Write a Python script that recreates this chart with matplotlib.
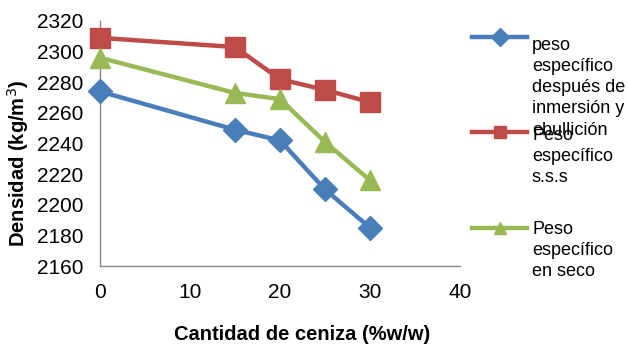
import matplotlib
matplotlib.use("Agg")
import matplotlib.pyplot as plt
from matplotlib.lines import Line2D

plt.rcParams['font.family'] = ['Liberation Sans', 'DejaVu Sans']

ceniza = [0, 15, 20, 25, 30]
despues_inmersion = [2274, 2249, 2242, 2210, 2185]
sss = [2309, 2303, 2282, 2275, 2267]
seco = [2296, 2273, 2269, 2241, 2216]

labels = ["peso\nespecífico\ndespués de\ninmersión y\nebullición",
          "Peso\nespecífico\ns.s.s",
          "Peso\nespecífico\nen seco"]
colors = ["#4A7EBB", "#BE4B48", "#98B954"]
markers = ["D", "s", "^"]
msizes = [12, 14, 15]

xticks = [0, 10, 20, 30, 40]
yticks = [2160, 2180, 2200, 2220, 2240, 2260, 2280, 2300, 2320]

W, H = 628, 354
fig = plt.figure(figsize=(W / 100, H / 100), dpi=100)
ax = fig.add_axes([100 / W, 1 - 266 / H, 360 / W, 245 / H])

for ys, c, m, ms in zip([despues_inmersion, sss, seco], colors, markers, msizes):
    ax.plot(ceniza, ys, color=c, lw=3.2, marker=m, markersize=ms,
            markeredgecolor=c, markerfacecolor=c, clip_on=False, zorder=3)

ax.set_xlim(0, 40)
ax.set_ylim(2160, 2320)
ax.set_xticks(xticks)
ax.set_yticks(yticks)
ax.tick_params(length=0, labelsize=15, pad=12)
for s in ['top', 'right']:
    ax.spines[s].set_visible(False)
for s in ['left', 'bottom']:
    ax.spines[s].set_color('#868686')
    ax.spines[s].set_linewidth(1)

ax.set_xlabel("Cantidad de ceniza (%w/w)", fontsize=14.5, fontweight='bold')
ax.xaxis.set_label_coords(202 / 360, -(335 - 266) / 245, transform=ax.transAxes)
ax.xaxis.label.set_verticalalignment('center')
ax.set_ylabel("Densidad (kg/m$^3$)", fontsize=14.5, fontweight='bold')
ax.yaxis.set_label_coords(-(100 - 18) / 360, (266 - 163) / 245, transform=ax.transAxes)
ax.yaxis.label.set_verticalalignment('center')

# legend (manual)
leg_line_y = [37, 132, 228]
text_first_y = [45, 135, 229]
lsp = 21.3
for ly, ty, lab, c, m in zip(leg_line_y, text_first_y, labels, colors, markers):
    fig.add_artist(Line2D([472 / W, 527 / W], [1 - ly / H, 1 - ly / H],
                          color=c, lw=3.2, transform=fig.transFigure))
    fig.add_artist(Line2D([499.5 / W], [1 - ly / H], color=c, marker=m,
                          markersize=9, transform=fig.transFigure))
    for i, line in enumerate(lab.split("\n")):
        fig.text(532 / W, 1 - (ty + i * lsp) / H, line, fontsize=13,
                 ha='left', va='center')

fig.savefig("out.png", dpi=100)
